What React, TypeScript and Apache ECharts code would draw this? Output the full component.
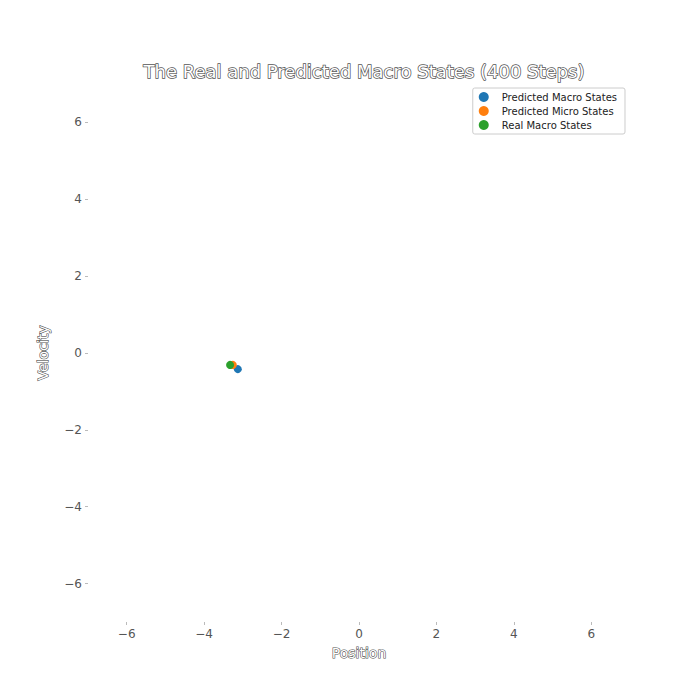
import React, { useEffect, useRef } from "react";
import * as echarts from "echarts";

const predictedMacro = [[-3.13, -0.42]];
const predictedMicro = [[-3.26, -0.31]];
const realMacro = [[-3.33, -0.31]];
const ticks = [-6, -4, -2, 0, 2, 4, 6];

const outline = {
  color: "#ffffff",
  textBorderColor: "#555555",
  textBorderWidth: 1.2,
  fontFamily: "DejaVu Sans",
};

const App = () => {
  const chartRef = useRef(null);

  useEffect(() => {
    const chart = echarts.init(chartRef.current, null, { renderer: "svg" });
    const axisCommon = {
      type: "value",
      min: -7,
      max: 7,
      interval: 1,
      axisLine: { show: false, onZero: false },
      splitLine: { show: false },
      axisTick: { show: true, length: 3, lineStyle: { color: "#bbbbbb" }, customValues: ticks },
      axisLabel: {
        customValues: ticks,
        color: "#555",
        fontSize: 12,
        margin: 6,
        fontFamily: "DejaVu Sans",
        formatter: (v) => (v < 0 ? "\u2212" + Math.abs(v) : String(v)),
      },
      nameLocation: "middle",
      nameTextStyle: { ...outline, fontSize: 14 },
    };
    const sym = (name, data, color) => ({
      name,
      type: "scatter",
      data,
      symbolSize: 8,
      itemStyle: { color, opacity: 1 },
    });
    chart.setOption({
      animation: false,
      title: {
        text: "The Real and Predicted Macro States (400 Steps)",
        left: 351,
        top: 49,
        textAlign: "center",
        textStyle: { ...outline, fontSize: 18, fontWeight: "normal", textBorderWidth: 1.5 },
      },
      legend: {
        orient: "vertical",
        right: 67,
        top: 80,
        itemWidth: 10,
        itemHeight: 10,
        itemGap: 4,
        icon: "circle",
        padding: [4, 8, 4, 6],
        borderColor: "#cccccc",
        borderWidth: 1,
        borderRadius: 2,
        textStyle: { fontSize: 10, color: "#222", fontFamily: "DejaVu Sans", padding: [0, 0, 0, 8] },
        data: ["Predicted Macro States", "Predicted Micro States", "Real Macro States"],
      },
      grid: { left: 80, right: 62, top: 76, bottom: 70 },
      xAxis: { ...axisCommon, name: "Position", nameGap: 22 },
      yAxis: { ...axisCommon, name: "Velocity", nameGap: 38 },
      series: [
        sym("Predicted Macro States", predictedMacro, "#1f77b4"),
        sym("Predicted Micro States", predictedMicro, "#ff7f0e"),
        sym("Real Macro States", realMacro, "#2ca02c"),
      ],
    });
    return () => chart.dispose();
  }, []);

  return <div ref={chartRef} style={{ width: 684, height: 684 }} />;
};

export default App;
